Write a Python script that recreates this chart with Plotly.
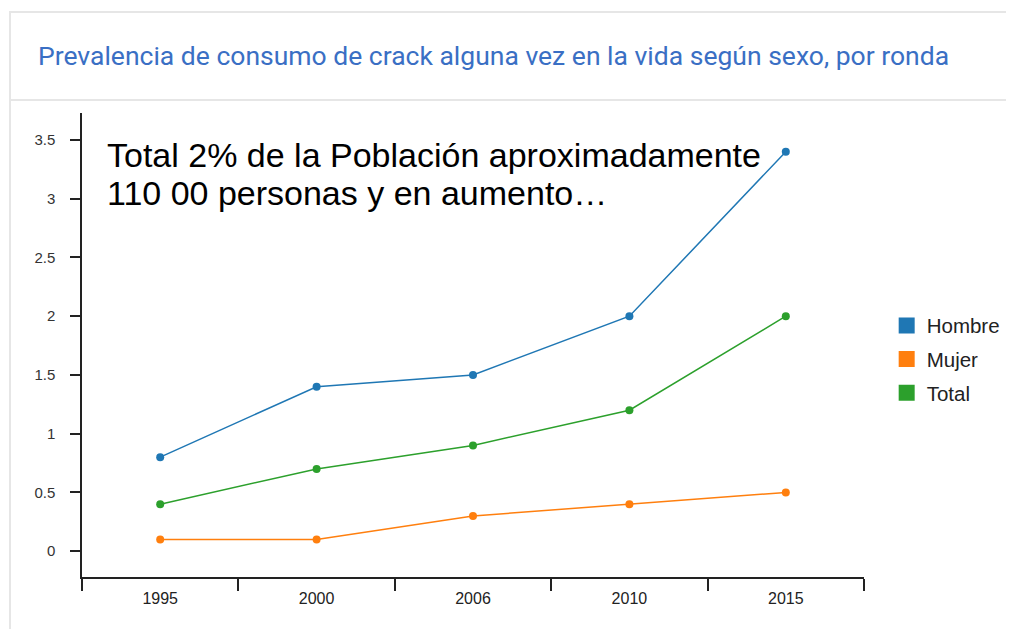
import plotly.graph_objects as go

# Datos
rondas = ["1995", "2000", "2006", "2010", "2015"]
hombre = [0.8, 1.4, 1.5, 2.0, 3.4]
mujer = [0.1, 0.1, 0.3, 0.4, 0.5]
total = [0.4, 0.7, 0.9, 1.2, 2.0]

series = [("Hombre", hombre, "#1f77b4"),
          ("Mujer", mujer, "#ff7f0e"),
          ("Total", total, "#2ca02c")]

fig = go.Figure()
for name, vals, color in series:
    fig.add_trace(go.Scatter(x=rondas, y=vals, mode="lines+markers", name=name,
                             line=dict(color=color, width=1.5),
                             marker=dict(color=color, size=8),
                             showlegend=False))
    # entrada de leyenda con cuadrado
    fig.add_trace(go.Scatter(x=[None], y=[None], mode="markers", name=name,
                             legendgroup=name,
                             marker=dict(color=color, size=18, symbol="square")))

fig.update_layout(
    width=1014, height=629,
    margin=dict(l=74, r=158, t=105, b=60),
    paper_bgcolor="white", plot_bgcolor="white",
    font=dict(family="Arial", color="#333"),
    legend=dict(x=1.029, y=0.585, xanchor="left", yanchor="top",
                font=dict(size=20.5, color="#222"), itemwidth=30,
                tracegroupgap=4),
    xaxis=dict(type="category", range=[-0.5, 4.5], showgrid=False,
               showline=True, linecolor="#222", linewidth=1.5,
               ticks="outside", tickson="boundaries", ticklen=12,
               tickcolor="#222", tickwidth=1.5, ticklabelstandoff=6,
               tickfont=dict(size=16, color="#222")),
    yaxis=dict(range=[-0.22, 3.73], tickvals=[0, 0.5, 1, 1.5, 2, 2.5, 3, 3.5],
               ticktext=["0", "0.5", "1", "1.5", "2", "2.5", "3", "3.5"],
               showgrid=False, zeroline=False,
               showline=True, linecolor="#222", linewidth=1.5,
               ticks="outside", ticklen=10, tickcolor="#222", tickwidth=1.5,
               ticklabelstandoff=12,
               tickfont=dict(size=15, color="#333")),
)

# tarjeta y titulo
fig.add_shape(type="rect", xref="paper", yref="paper",
              x0=-72 / 782, x1=1.2, y0=-0.15, y1=1 + 101 / 464,
              line=dict(color="#e6e6e6", width=2), layer="below")
fig.add_shape(type="line", xref="paper", yref="paper",
              x0=-72 / 782, x1=1.2, y0=1 + 13 / 464, y1=1 + 13 / 464,
              line=dict(color="#e6e6e6", width=2))
fig.add_annotation(text="Prevalencia de consumo de crack alguna vez en la vida según sexo, por ronda",
                   xref="paper", yref="paper", x=-46 / 782, y=1 + 58 / 464,
                   xanchor="left", yanchor="middle", showarrow=False,
                   font=dict(size=26.5, color="#3a6fc4", family="Roboto"))

lineas = ["Total 2% de la Población aproximadamente",
          "110 00 personas y en aumento…"]
for i, txt in enumerate(lineas):
    fig.add_annotation(text=txt, xref="paper", yref="paper",
                       x=23 / 782, y=1 - (42 + 38 * i) / 464,
                       xanchor="left", yanchor="middle", showarrow=False,
                       font=dict(size=34, color="black", family="Arial"))

fig.write_html("out.html")
